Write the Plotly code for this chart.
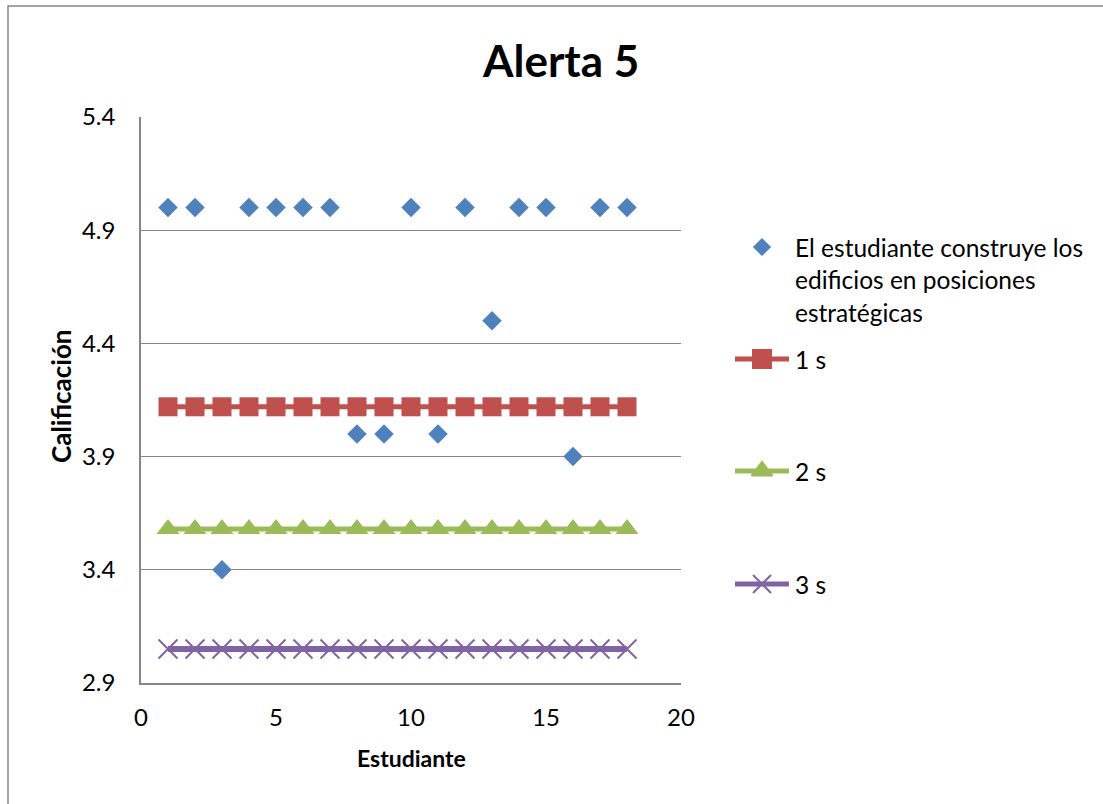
import plotly.graph_objects as go

# Calificaciones por estudiante y límites (1 s, 2 s, 3 s)
estudiantes = list(range(1, 19))
calificacion = [5.0, 5.0, 3.4, 5.0, 5.0, 5.0, 5.0, 4.0, 4.0,
                5.0, 4.0, 5.0, 4.5, 5.0, 5.0, 3.9, 5.0, 5.0]
limite_1s = [4.12] * 18
limite_2s = [3.58] * 18
limite_3s = [3.05] * 18

serie_nombre = "El estudiante construye los edificios en posiciones estratégicas"
legend_lines = ["El estudiante construye los", "edificios en posiciones", "estratégicas"]
x_ticks = [0, 5, 10, 15, 20]
y_ticks = [2.9, 3.4, 3.9, 4.4, 4.9, 5.4]

AZUL = "#4F81BD"
ROJO = "#C0504D"
VERDE = "#9BBB59"
MORADO = "#8064A2"
GRIS = "#868686"
FONT = "Lato"

W, H = 1103, 804
# plot area in figure pixels
PL, PR, PT, PB = 141, 681, 117, 683

fig = go.Figure()

fig.add_trace(go.Scatter(x=estudiantes, y=limite_1s, mode="lines+markers", name="1 s",
                         line=dict(color=ROJO, width=5),
                         marker=dict(symbol="square", size=19, color=ROJO)))
fig.add_trace(go.Scatter(x=estudiantes, y=limite_2s, mode="lines+markers", name="2 s",
                         line=dict(color=VERDE, width=5),
                         marker=dict(symbol="triangle-up", size=20, color=VERDE)))
fig.add_trace(go.Scatter(x=estudiantes, y=limite_3s, mode="lines+markers", name="3 s",
                         line=dict(color=MORADO, width=6),
                         marker=dict(symbol="x-thin", size=19, color=MORADO,
                                     line=dict(color=MORADO, width=2))))
fig.add_trace(go.Scatter(x=estudiantes, y=calificacion, mode="markers", name=serie_nombre,
                         marker=dict(symbol="diamond", size=15, color=AZUL)))

# Legend drawn on a full-figure pixel overlay
leg_x0, leg_x1, leg_xm, leg_tx = 735, 789, 762, 793
leg_items = [
    (359, ROJO, "square", 18, "1 s"),
    (471, VERDE, "triangle-up", 18, "2 s"),
    (584, MORADO, "x-thin", 18, "3 s"),
]
fig.add_trace(go.Scatter(x=[leg_xm], y=[247], mode="markers", xaxis="x2", yaxis="y2",
                         marker=dict(symbol="diamond", size=14, color=AZUL),
                         hoverinfo="skip"))
for yy, col, sym, sz, _ in leg_items:
    fig.add_trace(go.Scatter(x=[leg_x0, leg_x1], y=[yy, yy], mode="lines", xaxis="x2", yaxis="y2",
                             line=dict(color=col, width=5), hoverinfo="skip"))
    fig.add_trace(go.Scatter(x=[leg_xm], y=[yy], mode="markers", xaxis="x2", yaxis="y2",
                             marker=dict(symbol=sym, size=sz, color=col,
                                         line=dict(color=col, width=2)),
                             hoverinfo="skip"))

annotations = []
for i, txt in enumerate(legend_lines):
    annotations.append(dict(x=leg_tx, y=247 + i * 32.5, xref="x2", yref="y2", text=txt,
                            showarrow=False, xanchor="left", yanchor="middle",
                            font=dict(family=FONT, size=24.5, color="black")))
for yy, _, _, _, txt in leg_items:
    annotations.append(dict(x=leg_tx, y=yy, xref="x2", yref="y2", text=txt,
                            showarrow=False, xanchor="left", yanchor="middle",
                            font=dict(family=FONT, size=24.5, color="black")))

# Title and axis titles
annotations.append(dict(x=560, y=60, xref="x2", yref="y2", text="<b>Alerta 5</b>",
                        showarrow=False, xanchor="center", yanchor="middle",
                        font=dict(family=FONT, size=44, color="black")))
annotations.append(dict(x=411, y=758, xref="x2", yref="y2", text="<b>Estudiante</b>",
                        showarrow=False, xanchor="center", yanchor="middle",
                        font=dict(family=FONT, size=23, color="black")))
annotations.append(dict(x=61, y=396, xref="x2", yref="y2", text="<b>Calificación</b>",
                        showarrow=False, xanchor="center", yanchor="middle", textangle=-90,
                        font=dict(family=FONT, size=26, color="black")))

fig.update_layout(
    width=W, height=H, autosize=False,
    margin=dict(l=0, r=0, t=0, b=0, autoexpand=False),
    paper_bgcolor="white", plot_bgcolor="rgba(0,0,0,0)",
    showlegend=False,
    font=dict(family=FONT, size=24, color="black"),
    xaxis=dict(domain=[PL / W, PR / W], range=[0, 20], tickvals=x_ticks, automargin=False,
               showgrid=False, zeroline=False, showline=True, linecolor=GRIS, linewidth=1.5,
               ticks="", ticklabelstandoff=12, tickfont=dict(family=FONT, size=24)),
    yaxis=dict(domain=[1 - PB / H, 1 - PT / H], range=[2.9, 5.4], tickvals=y_ticks,
               ticktext=[f"{v:.1f}" for v in y_ticks], automargin=False,
               showgrid=True, gridcolor=GRIS, gridwidth=1.2, zeroline=False,
               showline=True, linecolor=GRIS, linewidth=1.5,
               ticks="", ticklabelstandoff=19, tickfont=dict(family=FONT, size=24)),
    xaxis2=dict(domain=[0, 1], range=[0, W], anchor="y2", visible=False, fixedrange=True,
                automargin=False),
    yaxis2=dict(domain=[0, 1], range=[H, 0], anchor="x2", visible=False, fixedrange=True,
                automargin=False),
    annotations=annotations,
    shapes=[dict(type="rect", xref="paper", yref="paper",
                 x0=8 / W, x1=1.05, y0=-0.05, y1=1 - 6 / H,
                 line=dict(color=GRIS, width=1.5), fillcolor="rgba(0,0,0,0)")],
)

fig.write_html("out.html")
